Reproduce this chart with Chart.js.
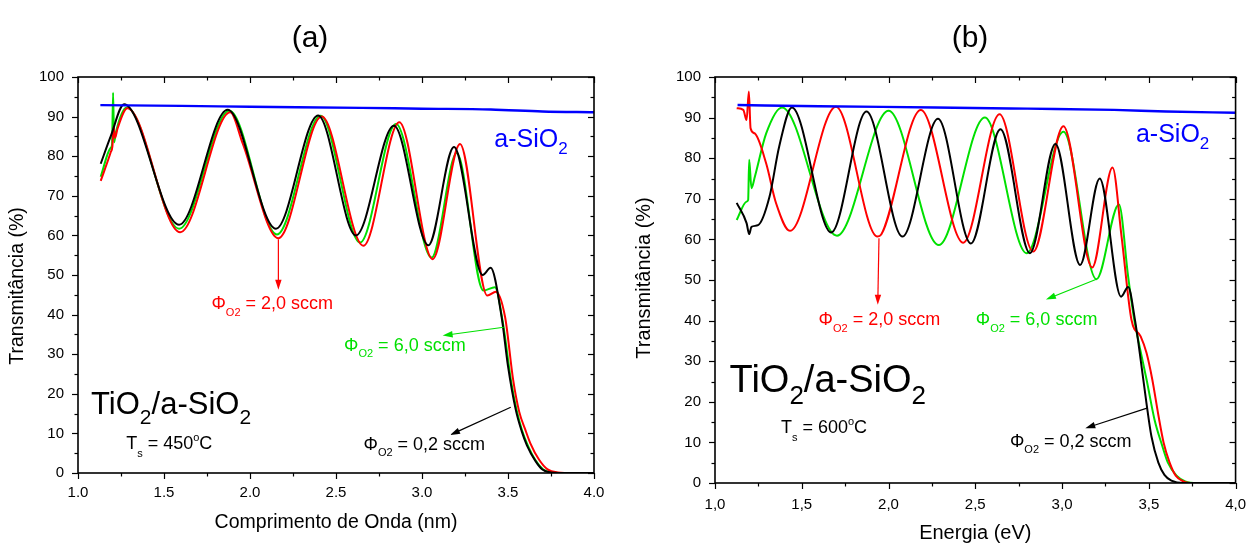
<!DOCTYPE html>
<html>
<head>
<meta charset="utf-8">
<script src="https://cdn.jsdelivr.net/npm/chart.js@4.4.1/dist/chart.umd.min.js"></script>
<style>
  html, body { margin: 0; padding: 0; background: #fff; }
  #wrap { position: relative; width: 1259px; height: 545px; }
  .panel { position: absolute; top: 0; }
</style>
</head>
<body>
<div id="wrap">
  <canvas id="chartA" class="panel" style="left:0" width="630" height="545"></canvas>
  <canvas id="chartB" class="panel" style="left:630px" width="629" height="545"></canvas>
</div>
<script>
// === DATA ===
// (a) Comprimento de Onda
const aBlueX  = [1.13, 1.6, 2.0, 2.65, 3.0, 3.4, 3.7, 4.0];
const aBlueY  = [92.9, 92.7, 92.5, 92.2, 92.0, 91.8, 91.3, 91.1];
const aBlackX = [1.132, 1.19, 1.268, 1.588, 1.87, 2.151, 2.396, 2.616, 2.837, 3.037, 3.186, 3.353, 3.399, 3.463, 3.50, 3.545, 3.58, 3.61, 3.66, 3.70, 3.75, 3.85, 4.0];
const aBlackY = [78.1, 85.0, 93.1, 62.7, 91.7, 61.7, 90.3, 60.0, 87.7, 57.5, 82.3, 50.0, 51.8, 39.4, 27.0, 16.0, 10.5, 7.0, 3.0, 0.9, 0.15, 0, 0];
const aRedX   = [1.132, 1.19, 1.20, 1.207, 1.215, 1.23, 1.287, 1.594, 1.885, 1.957, 2.165, 2.417, 2.659, 2.868, 3.062, 3.221, 3.38, 3.43, 3.483, 3.53, 3.565, 3.60, 3.63, 3.68, 3.73, 3.79, 3.88, 4.0];
const aRedY   = [73.75, 81.0, 82.5, 87.5, 84.6, 87.0, 92.1, 60.8, 91.1, 83.3, 59.3, 90.0, 57.4, 88.6, 54.0, 83.1, 44.8, 45.8, 39.4, 23.5, 15.5, 11.0, 7.5, 3.4, 0.9, 0.15, 0, 0];
const aGreenX = [1.132, 1.19, 1.198, 1.204, 1.21, 1.22, 1.283, 1.588, 1.88, 2.157, 2.41, 2.64, 2.849, 3.056, 3.202, 3.357, 3.424, 3.47, 3.52, 3.55, 3.58, 3.61, 3.66, 3.705, 3.76, 3.85, 4.0];
const aGreenY = [74.8, 82.1, 83.0, 96.0, 83.5, 86.0, 92.3, 61.7, 91.5, 60.25, 90.2, 58.2, 88.1, 54.4, 80.8, 46.1, 46.9, 38.0, 22.6, 15.9, 11.0, 7.5, 3.2, 0.9, 0.15, 0, 0];

// (b) Energia
const bBlueX  = [1.13, 1.6, 2.27, 2.8, 3.3, 3.6, 4.0];
const bBlueY  = [93.1, 92.8, 92.5, 92.2, 91.9, 91.5, 91.2];
const bBlackX = [1.125, 1.182, 1.197, 1.21, 1.248, 1.314, 1.37, 1.443, 1.67, 1.873, 2.08, 2.285, 2.475, 2.645, 2.815, 2.962, 3.104, 3.217, 3.34, 3.381, 3.419, 3.44, 3.487, 3.515, 3.555, 3.59, 3.63, 3.70, 4.0];
const bBlackY = [69.0, 64.0, 61.3, 63.1, 63.5, 70.5, 82.9, 92.5, 61.7, 91.5, 60.7, 89.7, 59.0, 87.1, 56.6, 83.5, 53.7, 75.0, 45.9, 48.3, 40.5, 34.5, 19.5, 11.5, 5.0, 2.0, 0.6, 0, 0];
const bRedX   = [1.125, 1.163, 1.182, 1.195, 1.205, 1.229, 1.295, 1.352, 1.432, 1.697, 1.936, 1.958, 2.186, 2.431, 2.64, 2.834, 3.008, 3.174, 3.291, 3.343, 3.40, 3.453, 3.487, 3.52, 3.556, 3.585, 3.62, 3.655, 3.70, 3.76, 4.0];
const bRedY   = [92.3, 91.9, 89.4, 96.4, 87.4, 86.1, 78.7, 68.9, 62.1, 92.7, 60.7, 61.2, 91.9, 59.2, 90.8, 57.0, 87.9, 53.1, 77.7, 60.7, 40.2, 36.1, 32.0, 25.5, 16.5, 10.0, 5.0, 1.8, 0.4, 0, 0];
const bGreenX = [1.125, 1.182, 1.191, 1.197, 1.21, 1.23, 1.295, 1.386, 1.703, 2.0, 2.29, 2.555, 2.796, 3.008, 3.198, 3.328, 3.381, 3.415, 3.44, 3.487, 3.533, 3.575, 3.61, 3.66, 3.71, 3.78, 4.0];
const bGreenY = [64.8, 69.3, 69.7, 79.6, 72.6, 75.5, 86.1, 92.5, 60.9, 91.7, 58.6, 90.0, 56.6, 86.5, 50.2, 68.6, 50.8, 40.5, 35.0, 25.5, 15.6, 9.5, 5.0, 1.8, 0.4, 0, 0];

const xTicks = [1.0, 1.5, 2.0, 2.5, 3.0, 3.5, 4.0];
const yTicks = [0, 10, 20, 30, 40, 50, 60, 70, 80, 90, 100];

const FONT = "'Liberation Sans', Arial, sans-serif";
const BLACK = '#000000', RED = '#ff0000', GREEN = '#00e000', BLUE = '#0000ff';

// annotation texts: [text, size, baseline shift]
const phi = (rest, size) => [['\u03A6', size], ['O2', Math.round(size * 0.62), size * 0.36], [' = ' + rest, size]];

function drawRuns(ctx, x, yMid, runs, color) {
  const base = runs[0][1];
  const baseline = yMid + base * 0.36;
  let cx = x;
  ctx.fillStyle = color;
  ctx.textAlign = 'left';
  ctx.textBaseline = 'alphabetic';
  for (const [t, size, dy = 0] of runs) {
    ctx.font = size + 'px ' + FONT;
    ctx.fillText(t, cx, baseline + dy);
    cx += ctx.measureText(t).width;
  }
}

function arrow(ctx, x1, y1, x2, y2, color) {
  const ang = Math.atan2(y2 - y1, x2 - x1);
  const c = Math.cos(ang), s = Math.sin(ang);
  const L = 10, W = 3.2;
  ctx.strokeStyle = color;
  ctx.fillStyle = color;
  ctx.lineWidth = 1.2;
  ctx.beginPath();
  ctx.moveTo(x1, y1);
  ctx.lineTo(x2 - L * 0.8 * c, y2 - L * 0.8 * s);
  ctx.stroke();
  ctx.beginPath();
  ctx.moveTo(x2, y2);
  ctx.lineTo(x2 - L * c + W * s, y2 - L * s - W * c);
  ctx.lineTo(x2 - L * c - W * s, y2 - L * s + W * c);
  ctx.closePath();
  ctx.fill();
}

// frame, mirrored ticks, notes, y title and panel letter
const panelDeco = {
  id: 'panelDeco',
  afterDatasetsDraw(chart, args, opts) {
    const {ctx, chartArea: a, scales: {x, y}} = chart;
    ctx.save();
    ctx.strokeStyle = '#000';
    ctx.lineWidth = 1.2;
    const seg = (x1, y1, x2, y2) => { ctx.beginPath(); ctx.moveTo(x1, y1); ctx.lineTo(x2, y2); ctx.stroke(); };
    for (let i = 0; i <= 12; i++) {
      const v = 1 + i * 0.25;
      const px = Math.round(x.getPixelForValue(v)) + 0.5;
      const len = i % 2 === 0 ? 6 : 3.5;
      seg(px, a.bottom, px, a.bottom + len);
      seg(px, a.top, px, a.top + len);
    }
    for (let i = 0; i <= 20; i++) {
      const py = Math.round(y.getPixelForValue(i * 5)) + 0.5;
      const len = i % 2 === 0 ? 6 : 3.5;
      seg(a.left, py, a.left - len, py);
      seg(a.right, py, a.right - len, py);
    }
    ctx.lineWidth = 1.6;
    ctx.strokeRect(a.left, a.top, a.right - a.left, a.bottom - a.top);

    for (const n of opts.notes) {
      drawRuns(ctx, x.getPixelForValue(n.x), y.getPixelForValue(n.y), n.runs, n.color);
    }
    for (const r of opts.arrows) {
      arrow(ctx, x.getPixelForValue(r.from[0]), y.getPixelForValue(r.from[1]),
                 x.getPixelForValue(r.to[0]), y.getPixelForValue(r.to[1]), r.color);
    }
    ctx.fillStyle = '#000';
    ctx.textAlign = 'center';
    ctx.textBaseline = 'middle';
    ctx.font = '30px ' + FONT;
    ctx.fillText(opts.title, opts.titleX, 39);

    // y axis title
    ctx.font = opts.axisFont + 'px ' + FONT;
    ctx.translate(opts.yTitleX, opts.yTitleY);
    ctx.rotate(-Math.PI / 2);
    ctx.fillText('Transmit\u00e2ncia (%)', 0, 0);
    ctx.restore();
  }
};

function makeChart(id, o) {
  const line = (xs, ys, color, width) => ({
    data: xs.map((v, i) => ({x: v, y: ys[i]})),
    borderColor: color,
    borderWidth: width,
    pointRadius: 0,
    fill: false,
    cubicInterpolationMode: 'monotone'
  });
  return new Chart(document.getElementById(id), {
    type: 'line',
    data: {
      datasets: [
        line(o.blue[0], o.blue[1], BLUE, 2.4),
        line(o.black[0], o.black[1], BLACK, 2),
        line(o.red[0], o.red[1], RED, 2),
        line(o.green[0], o.green[1], GREEN, 2)
      ]
    },
    options: {
      responsive: false,
      animation: false,
      layout: {padding: {top: 77, left: 0, right: o.padRight, bottom: 0}},
      plugins: {
        legend: {display: false},
        tooltip: {enabled: false},
        panelDeco: {notes: o.notes, arrows: o.arrows, title: o.title, titleX: o.titleX,
                    axisFont: o.axisFont, yTitleX: o.yTitleX, yTitleY: o.yTitleY}
      },
      scales: {
        x: {
          type: 'linear', min: 1, max: 4,
          afterFit: s => { s.height = o.xHeight; },
          afterBuildTicks: s => { s.ticks = xTicks.map(v => ({value: v})); },
          grid: {display: false, drawTicks: false},
          border: {display: false},
          ticks: {padding: o.xPad, color: '#000', font: {family: FONT, size: 15}, callback: o.fmt},
          title: {display: true, text: o.xTitle, color: '#000', font: {family: FONT, size: o.axisFont},
                  padding: {top: 0, bottom: o.xTitlePad}}
        },
        y: {
          type: 'linear', min: 0, max: 100,
          afterFit: s => { s.width = o.yWidth; },
          afterBuildTicks: s => { s.ticks = yTicks.map(v => ({value: v})); },
          grid: {display: false, drawTicks: false},
          border: {display: false},
          ticks: {padding: 14, color: '#000', font: {family: FONT, size: 15}}
        }
      }
    },
    plugins: [panelDeco]
  });
}

makeChart('chartA', {
  blue: [aBlueX, aBlueY], black: [aBlackX, aBlackY], red: [aRedX, aRedY], green: [aGreenX, aGreenY],
  padRight: 36, xHeight: 72, yWidth: 78, xPad: 11, xTitlePad: 11, axisFont: 19.5,
  yTitleX: 18, yTitleY: 286,
  xTitle: 'Comprimento de Onda (nm)', title: '(a)', titleX: 310,
  fmt: v => v.toFixed(1),
  notes: [
    {x: 3.42, y: 84.6, color: BLUE, runs: [['a-SiO', 25], ['2', 17, 7]]},
    {x: 1.776, y: 43.0, color: RED, runs: phi('2,0 sccm', 18)},
    {x: 2.547, y: 32.5, color: GREEN, runs: phi('6,0 sccm', 18)},
    {x: 2.66, y: 7.5, color: BLACK, runs: phi('0,2 sccm', 18)},
    {x: 1.076, y: 17.7, color: BLACK, runs: [['TiO', 31], ['2', 21, 10], ['/a-SiO', 31], ['2', 21, 10]]},
    {x: 1.28, y: 7.65, color: BLACK, runs: [['T', 18], ['s', 11, 8], [' = 450', 18], ['o', 11, -8], ['C', 18]]}
  ],
  arrows: [
    {from: [2.165, 59.0], to: [2.165, 46.3], color: RED},
    {from: [3.475, 36.8], to: [3.12, 34.7], color: GREEN},
    {from: [3.516, 16.6], to: [3.163, 9.6], color: BLACK}
  ]
});

makeChart('chartB', {
  blue: [bBlueX, bBlueY], black: [bBlackX, bBlackY], red: [bRedX, bRedY], green: [bGreenX, bGreenY],
  padRight: 12, xHeight: 62, yWidth: 85, xPad: 13, xTitlePad: 0, axisFont: 20,
  yTitleX: 14, yTitleY: 278,
  xTitle: 'Energia (eV)', title: '(b)', titleX: 340,
  fmt: v => v.toFixed(1).replace('.', ','),
  notes: [
    {x: 3.426, y: 86.2, color: BLUE, runs: [['a-SiO', 25], ['2', 17, 7]]},
    {x: 1.597, y: 40.4, color: RED, runs: phi('2,0 sccm', 18)},
    {x: 2.503, y: 40.4, color: GREEN, runs: phi('6,0 sccm', 18)},
    {x: 2.70, y: 10.5, color: BLACK, runs: phi('0,2 sccm', 18)},
    {x: 1.084, y: 25.7, color: BLACK, runs: [['TiO', 38], ['2', 26, 12], ['/a-SiO', 38], ['2', 26, 12]]},
    {x: 1.38, y: 14.0, color: BLACK, runs: [['T', 18], ['s', 11, 8], [' = 600', 18], ['o', 11, -8], ['C', 18]]}
  ],
  arrows: [
    {from: [1.945, 60.3], to: [1.938, 43.9], color: RED},
    {from: [3.198, 50.2], to: [2.907, 45.2], color: GREEN},
    {from: [3.494, 18.5], to: [3.134, 13.5], color: BLACK}
  ]
});
</script>
</body>
</html>
